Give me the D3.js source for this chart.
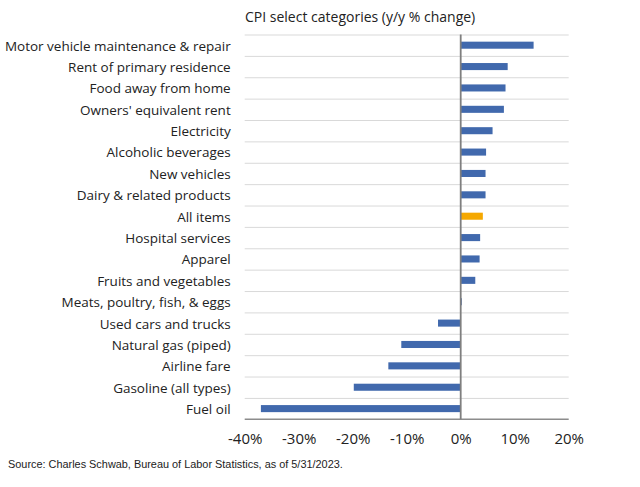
<!DOCTYPE html>
<html><head><meta charset="utf-8">
<script src="https://cdn.jsdelivr.net/npm/d3@7"></script>
<style>body{margin:0;background:#fff}svg{display:block}</style>
</head><body>
<script>
const categories = ["Motor vehicle maintenance & repair","Rent of primary residence","Food away from home","Owners' equivalent rent","Electricity","Alcoholic beverages","New vehicles","Dairy & related products","All items","Hospital services","Apparel","Fruits and vegetables","Meats, poultry, fish, & eggs","Used cars and trucks","Natural gas (piped)","Airline fare","Gasoline (all types)","Fuel oil"];
const values = [13.5, 8.7, 8.3, 8.0, 5.9, 4.7, 4.6, 4.6, 4.1, 3.6, 3.5, 2.7, 0.2, -4.2, -11.0, -13.4, -19.8, -37.0];
const highlight = ["All items"];
const xTicks = [-40, -30, -20, -10, 0, 10, 20];
const title = "CPI select categories (y/y % change)";
const source = "Source: Charles Schwab, Bureau of Labor Statistics, as of 5/31/2023.";

const W = 640, H = 487;
const m = {left: 244.7, right: 640 - 568.7, top: 34.5, bottom: 487 - 419.3};
const svg = d3.select("body").append("svg").attr("width", W).attr("height", H);
const font = "'Open Sans', sans-serif";

const x = d3.scaleLinear().domain([-40, 20]).range([m.left, W - m.right]);
const y = d3.scaleBand().domain(categories).range([m.top, H - m.bottom]).paddingInner(0.67).paddingOuter(0.335);
const yb = d3.scaleBand().domain(categories).range([m.top, H - m.bottom]);

svg.append("g").selectAll("line").data(categories).join("line")
  .attr("x1", x(-40)).attr("x2", x(20))
  .attr("y1", d => yb(d) + 0.5).attr("y2", d => yb(d) + 0.5)
  .attr("stroke", "#d9d9d9").attr("stroke-width", 1);

svg.append("g").selectAll("rect").data(categories).join("rect")
  .attr("x", (d, i) => x(Math.min(0, values[i])))
  .attr("width", (d, i) => Math.abs(x(values[i]) - x(0)))
  .attr("y", d => y(d))
  .attr("height", y.bandwidth())
  .attr("fill", d => highlight.includes(d) ? "#f5a800" : "#4169ad");

svg.append("line").attr("x1", x(-40)).attr("x2", x(20))
  .attr("y1", H - m.bottom).attr("y2", H - m.bottom)
  .attr("stroke", "#8c8c8c").attr("stroke-width", 1.5);
svg.append("line").attr("x1", x(0)).attr("x2", x(0))
  .attr("y1", m.top).attr("y2", H - m.bottom)
  .attr("stroke", "#7f7f7f").attr("stroke-width", 1.8);

const xAxis = d3.axisBottom(x).tickValues(xTicks).tickFormat(d => d + "%").tickSize(0).tickPadding(14);
const gx = svg.append("g").attr("transform", `translate(0,${H - m.bottom})`).call(xAxis);
gx.select(".domain").remove();
gx.selectAll("text").attr("font-family", font).attr("font-size", 15).attr("fill", "#222");

const yAxis = d3.axisLeft(yb).tickSize(0).tickPadding(14);
const gy = svg.append("g").attr("transform", `translate(${m.left},0)`).call(yAxis);
gy.select(".domain").remove();
const yTexts = gy.selectAll("text").attr("font-family", font).attr("font-size", 14).attr("fill", "#222").attr("dy", "0.4em");
// fit longest label into available width
let maxW = 0;
yTexts.each(function(){ maxW = Math.max(maxW, this.getComputedTextLength()); });
const fs = 14 * 226 / maxW;
yTexts.attr("font-size", fs);

svg.append("text").attr("x", 245).attr("y", 22).text(title)
  .attr("font-family", font).attr("font-size", 14).attr("fill", "#222");
svg.append("text").attr("x", 8).attr("y", 468).text(source)
  .attr("font-family", "'Liberation Sans', Arial, sans-serif").attr("font-size", 10.9).attr("fill", "#222");
</script>
</body></html>
